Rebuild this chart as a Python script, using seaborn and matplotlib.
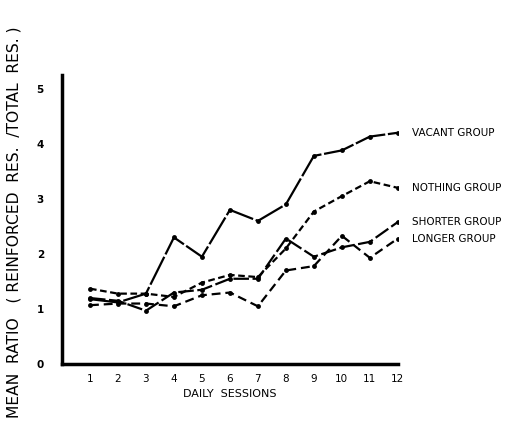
import matplotlib
matplotlib.use("Agg")
import matplotlib.pyplot as plt
import seaborn as sns
import pandas as pd

sessions = list(range(1, 13))
groups = ["VACANT GROUP", "NOTHING GROUP", "SHORTER GROUP", "LONGER GROUP"]
vacant = [1.18, 1.12, 1.28, 2.30, 1.95, 2.80, 2.60, 2.90, 3.78, 3.88, 4.13, 4.20]
nothing = [1.37, 1.28, 1.28, 1.22, 1.48, 1.62, 1.58, 2.10, 2.77, 3.05, 3.32, 3.20]
shorter = [1.20, 1.15, 0.97, 1.30, 1.35, 1.55, 1.55, 2.28, 1.95, 2.12, 2.22, 2.58]
longer = [1.07, 1.10, 1.10, 1.05, 1.25, 1.30, 1.05, 1.70, 1.78, 2.33, 1.93, 2.28]
yticks = [0, 1, 2, 3, 4, 5]

series = dict(zip(groups, [vacant, nothing, shorter, longer]))
rows = []
for g, vals in series.items():
    for s, v in zip(sessions, vals):
        rows.append({"session": s, "ratio": v, "group": g})
df = pd.DataFrame(rows)

sns.set_theme(style="white")
plt.rcParams["font.family"] = ["DejaVu Sans"]
for k in ["text.color", "axes.labelcolor", "xtick.color", "ytick.color"]:
    plt.rcParams[k] = "black"

fig = plt.figure(figsize=(5.14, 4.33), dpi=100)
ax = fig.add_axes([0.1206, 0.159, 0.774 - 0.1206, 0.827 - 0.159])

dashes = {
    "VACANT GROUP": (14, 1.2),
    "NOTHING GROUP": (3, 1.6),
    "SHORTER GROUP": (7, 1.6),
    "LONGER GROUP": (4, 2.2),
}
palette = {g: "black" for g in groups}
sns.lineplot(data=df, x="session", y="ratio", hue="group", style="group",
             palette=palette, dashes=dashes, marker="o", markersize=3.5,
             markeredgewidth=0, linewidth=1.6, legend=False, ax=ax)

for g, vals in series.items():
    ax.annotate(g, xy=(sessions[-1], vals[-1]), xytext=(10, 0),
                textcoords="offset points", fontsize=7.5, va="center",
                ha="left", annotation_clip=False, color="black")

ax.set_xlim(0, 12)
ax.set_ylim(0, 5.25)
ax.set_xticks(sessions)
ax.set_xticklabels([str(s) for s in sessions], fontsize=7.5)
ax.set_yticks(yticks)
ax.set_yticklabels([str(t) for t in yticks], fontsize=7.5, fontweight="bold")
ax.tick_params(axis="x", length=0, pad=7)
ax.tick_params(axis="y", length=0, pad=13)
for side in ["top", "right"]:
    ax.spines[side].set_visible(False)
for side in ["left", "bottom"]:
    ax.spines[side].set_linewidth(2.5)
    ax.spines[side].set_color("black")
ax.set_xlabel("DAILY  SESSIONS", fontsize=8, labelpad=4)
ax.set_ylabel("MEAN  RATIO   ( REINFORCED  RES.  /TOTAL  RES. )",
              fontsize=11.2)
ax.yaxis.set_label_coords(-0.122, 0.49)

fig.savefig("out.png", dpi=100, facecolor="white")
